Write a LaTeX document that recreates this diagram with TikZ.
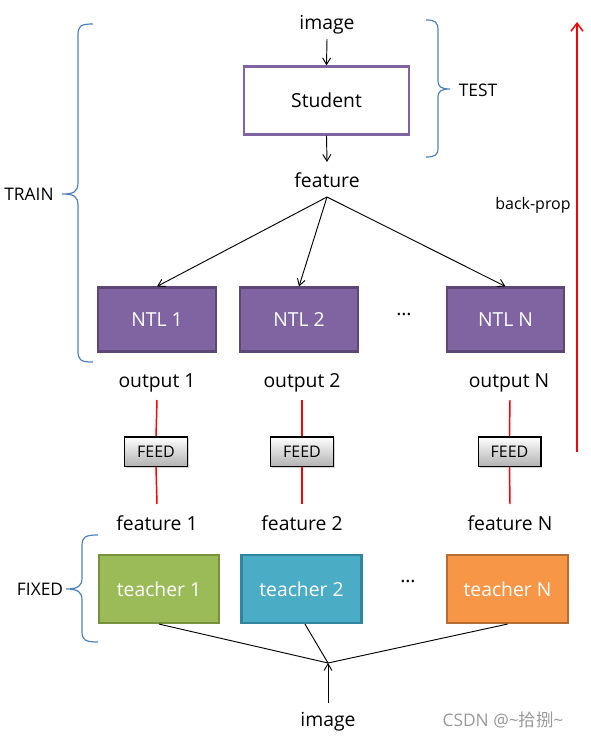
\documentclass[tikz,border=0pt]{standalone}
\usepackage{fontspec}
\setmainfont{Open Sans}
\newfontfamily\cjk{Noto Sans CJK SC}
\usetikzlibrary{arrows.meta,shadows}
\definecolor{ntlfill}{HTML}{8064A2}
\definecolor{ntlborder}{HTML}{5C4776}
\definecolor{stuborder}{HTML}{8064A2}
\definecolor{tonefill}{HTML}{9BBB59}
\definecolor{toneborder}{HTML}{76923C}
\definecolor{ttwofill}{HTML}{4BACC6}
\definecolor{ttwoborder}{HTML}{31859C}
\definecolor{tnfill}{HTML}{F79646}
\definecolor{tnborder}{HTML}{B66D31}
\definecolor{bracecol}{HTML}{4F81BD}
\tikzset{
  lbl/.style={font=\fontsize{14.5}{16}\selectfont, inner sep=1pt},
  side/.style={font=\fontsize{13}{15}\selectfont, inner sep=1pt},
  box/.style={draw, line width=1.6pt, minimum width=88pt, minimum height=48pt, text=white, font=\fontsize{14.5}{16}\selectfont},
  ntlbox/.style={box, fill=ntlfill, draw=ntlborder},
  feedbox/.style={draw=black, line width=1pt, top color=white, bottom color=black!30, minimum width=47pt, minimum height=22pt, font=\fontsize{12}{14}\selectfont, inner sep=0pt, drop shadow={shadow xshift=1pt, shadow yshift=-1pt, opacity=0.35}},
  arr/.style={-{Straight Barb[length=5pt,width=6pt]}, line width=0.7pt},
  redl/.style={draw=red, line width=1.1pt},
  brc/.style={draw=bracecol, line width=0.9pt},
}
\begin{document}
\begin{tikzpicture}[x=0.75pt,y=-0.75pt]
\useasboundingbox (0,0) rectangle (590,740);
% top image, student
\node[lbl] (img1) at (327,25) {image};
\node[draw=stuborder, line width=1.6pt, fill=white, minimum width=124pt, minimum height=51pt, font=\fontsize{14.5}{16}\selectfont] (stu) at (326.5,100.5) {Student};
\draw[arr] (327,39) -- (stu.north);
\node[lbl] (feat) at (327,180) {feature};
\coordinate (fj) at (327,197);
\draw[arr] (stu.south) -- (327,162);
% NTL boxes
\node[ntlbox] (ntl1) at (157,319.5) {NTL 1};
\node[ntlbox] (ntl2) at (299,319.5) {NTL 2};
\node[ntlbox] (ntln) at (505.5,319.5) {NTL N};
\node[lbl] (dots1) at (404,314) {…};
\draw[arr] (fj) -- (ntl1.north);
\draw[arr] (fj) -- (ntl2.north);
\draw[arr] (fj) -- (ntln.north);
% outputs
\node[lbl] (o1) at (157,383) {output 1};
\node[lbl] (o2) at (302,383) {output 2};
\node[lbl] (on) at (509,383) {output N};
\node[feedbox] (f1) at (156,451.5) {FEED};
\node[feedbox] (f2) at (302,451.5) {FEED};
\node[feedbox] (fn) at (509.5,451.5) {FEED};
\node[lbl] (e1) at (157,523) {feature 1};
\node[lbl] (e2) at (302,523) {feature 2};
\node[lbl] (en) at (510,523) {feature N};
\foreach \f/\x in {f1/157,f2/302,fn/510}{
  \draw[redl] (\x,400) -- (\f.north);
  \draw[redl] (\f.south) -- (\x,504);
}
% teachers
\node[box, fill=tonefill, draw=toneborder, minimum width=90pt, minimum height=51pt] (t1) at (159,589) {teacher 1};
\node[box, fill=ttwofill, draw=ttwoborder, minimum width=90pt, minimum height=51pt] (t2) at (301.5,589) {teacher 2};
\node[box, fill=tnfill, draw=tnborder, minimum width=91pt, minimum height=51pt] (tn) at (507.5,589) {teacher N};
\node[lbl] (dots2) at (408,581) {…};
\coordinate (tj) at (328,663);
\node[lbl] (img2) at (328,722) {image};
\draw[line width=0.7pt] (t1.south) -- (tj);
\draw[line width=0.7pt] ([xshift=2.6pt]t2.south) -- (tj);
\draw[line width=0.7pt] (tn.south) -- (tj);
\draw[arr] (328,703) -- (tj);
% braces
\draw[brc] (93,24) .. controls (80,24) and (78,26) .. (78,36) -- (78,182) .. controls (78,192) and (74,194) .. (62,194)
  .. controls (74,194) and (78,196) .. (78,206) -- (78,350) .. controls (78,360) and (80,362) .. (93,362);
\node[side] (train) at (29,194) {TRAIN};
\draw[brc] (426,20) .. controls (435,20) and (438,22) .. (438,30) -- (438,80) .. controls (438,87) and (441,89) .. (450,89)
  .. controls (441,89) and (438,91) .. (438,98) -- (438,148) .. controls (438,155) and (435,157) .. (426,157);
\node[side] (test) at (478,90) {TEST};
\draw[brc] (98,535) .. controls (85,535) and (82,537) .. (82,546) -- (82,578) .. controls (82,586) and (78,589) .. (66,589)
  .. controls (78,589) and (82,592) .. (82,600) -- (82,631) .. controls (82,640) and (85,642) .. (98,642);
\node[side] (fixed) at (40,589) {FIXED};
% back-prop
\coordinate (bpa) at (577,452);
\coordinate (bpb) at (577,22);
\draw[draw=red, line width=1.1pt, -{Straight Barb[length=6pt,width=9pt]}] (bpa) -- (bpb);
\node[font=\fontsize{12}{14}\selectfont] (bp) at (533,205) {back-prop};
% watermark
\node[text=black!40, font=\fontsize{13}{15}\selectfont] (wm) at (503,720) {CSDN @\textasciitilde{\cjk 拾捌}\textasciitilde};
\end{tikzpicture}
\end{document}
